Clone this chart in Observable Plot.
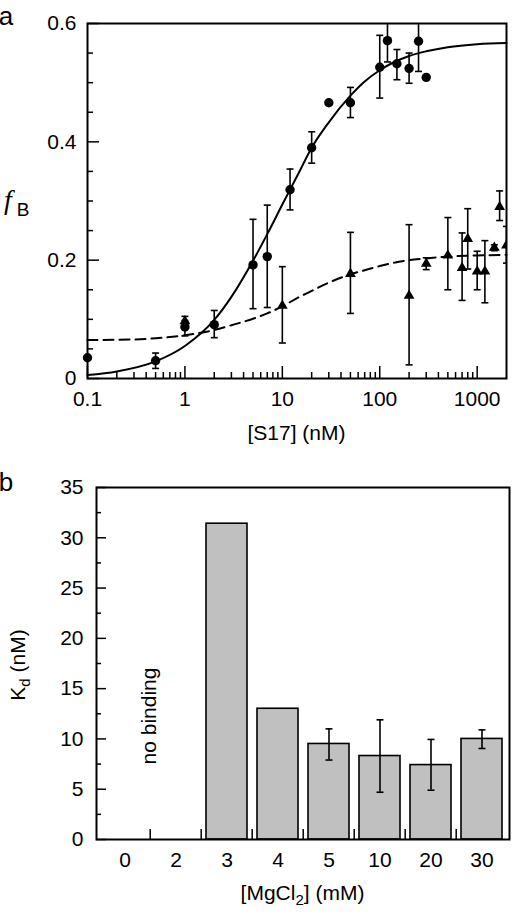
<!DOCTYPE html>
<html><head><meta charset="utf-8">
<script src="https://cdn.jsdelivr.net/npm/d3@7"></script>
<script src="https://cdn.jsdelivr.net/npm/@observablehq/plot@0.6"></script>
<style>
html,body{margin:0;padding:0;background:#fff;}
#wrap{position:relative;width:519px;height:914px;overflow:hidden;}
#wrap svg{display:block;}
</style></head><body><div id="wrap"></div>
<script>
// ---------- Panel a: fraction bound vs [S17] ----------
const circleX  = [0.1, 0.5, 1, 2, 5, 7, 12, 20, 30, 50, 100, 120, 150, 200, 250, 300];
const circleY  = [0.035, 0.030, 0.087, 0.091, 0.192, 0.206, 0.319, 0.390, 0.466, 0.466, 0.526, 0.571, 0.532, 0.524, 0.570, 0.509];
const circleLo = [null, 0.017, 0.072, 0.069, 0.118, 0.120, 0.285, 0.364, null, 0.441, 0.474, 0.535, 0.505, 0.499, 0.519, null];
const circleHi = [null, 0.043, 0.098, 0.115, 0.269, 0.293, 0.354, 0.417, null, 0.492, 0.580, 0.640, 0.556, 0.550, 0.640, null];

const triX  = [1, 10, 50, 200, 300, 500, 700, 800, 1000, 1200, 1500, 1700, 2000];
const triY  = [0.097, 0.123, 0.177, 0.140, 0.194, 0.208, 0.187, 0.236, 0.181, 0.181, 0.221, 0.290, 0.225];
const triLo = [0.088, 0.060, 0.110, 0.023, 0.184, 0.150, 0.132, 0.185, 0.150, 0.128, 0.216, 0.267, 0.195];
const triHi = [0.105, 0.189, 0.247, 0.260, 0.204, 0.272, 0.246, 0.287, 0.215, 0.233, 0.226, 0.317, 0.257];

const solidX = [0.1, 0.2, 0.5, 1, 2, 3, 5, 7, 10, 15, 20, 30, 50, 70, 100, 200, 300, 500, 1000, 2000];
const solidY = [0.006, 0.012, 0.029, 0.055, 0.099, 0.138, 0.199, 0.244, 0.294, 0.350, 0.390, 0.433, 0.478, 0.502, 0.521, 0.545, 0.553, 0.560, 0.565, 0.567];
const dashX  = [0.1, 0.3, 0.5, 1, 2, 3, 5, 7, 10, 15, 20, 30, 50, 70, 100, 200, 300, 500, 1000, 2000];
const dashY  = [0.065, 0.066, 0.068, 0.073, 0.082, 0.090, 0.101, 0.110, 0.122, 0.138, 0.148, 0.162, 0.176, 0.183, 0.190, 0.200, 0.203, 0.206, 0.208, 0.209];

const xMajorTicks = [0.1, 1, 10, 100, 1000];
const xMinorTicks = [0.2,0.3,0.4,0.5,0.6,0.7,0.8,0.9, 2,3,4,5,6,7,8,9, 20,30,40,50,60,70,80,90, 200,300,400,500,600,700,800,900];
const yMajorTicksA = [0, 0.2, 0.4, 0.6];
const yMinorTicksA = [0.05, 0.1, 0.15, 0.25, 0.3, 0.35, 0.45, 0.5, 0.55];

// ---------- Panel b: Kd vs [MgCl2] ----------
const mgLabels = ["0", "2", "3", "4", "5", "10", "20", "30"];
const kdValues = [null, null, 31.4, 13.0, 9.5, 8.3, 7.4, 10.0];
const kdLo     = [null, null, null, null, 7.9, 4.7, 4.9, 9.05];
const kdHi     = [null, null, null, null, 11.0, 11.9, 9.95, 10.9];
const yMajorTicksB = [0, 5, 10, 15, 20, 25, 30, 35];
const yMinorTicksB = [2.5, 7.5, 12.5, 17.5, 22.5, 27.5, 32.5];

const SANS = "'Liberation Sans', Arial, Helvetica, sans-serif";
const FS = 21;
const capSymbol = {draw(ctx, size) { const r = Math.sqrt(size / Math.PI); ctx.moveTo(-r, 0); ctx.lineTo(r, 0); }};

const circles = circleX.map((x, i) => ({x, y: circleY[i], lo: circleLo[i], hi: circleHi[i]}));
const circErr = circles.filter(d => d.lo != null);
const tris = triX.map((x, i) => ({x, y: triY[i], lo: triLo[i], hi: triHi[i]}));
const solid = solidX.map((x, i) => ({x, y: solidY[i]}));
const dashed = dashX.map((x, i) => ({x, y: dashY[i]}));

const plotA = Plot.plot({
  width: 519, height: 445,
  marginLeft: 87, marginRight: 13, marginTop: 23, marginBottom: 67,
  style: {fontFamily: SANS, fontSize: FS + "px", background: "white", color: "black"},
  x: {type: "log", domain: [0.1, 2000]},
  y: {domain: [0, 0.6]},
  marks: [
    Plot.line(dashed, {x: "x", y: "y", stroke: "black", strokeWidth: 2, strokeDasharray: "10,6", curve: "monotone-x"}),
    Plot.line(solid, {x: "x", y: "y", stroke: "black", strokeWidth: 2, curve: "monotone-x"}),
    Plot.ruleX(circErr, {x: "x", y1: "lo", y2: "hi", stroke: "black", strokeWidth: 1.6, clip: true}),
    Plot.dot(circErr, {x: "x", y: "lo", symbol: capSymbol, r: 3.5, stroke: "black", strokeWidth: 1.6, fill: "none", clip: true}),
    Plot.dot(circErr, {x: "x", y: "hi", symbol: capSymbol, r: 3.5, stroke: "black", strokeWidth: 1.6, fill: "none", clip: true}),
    Plot.ruleX(tris, {x: "x", y1: "lo", y2: "hi", stroke: "black", strokeWidth: 1.6, clip: true}),
    Plot.dot(tris, {x: "x", y: "lo", symbol: capSymbol, r: 3.5, stroke: "black", strokeWidth: 1.6, fill: "none", clip: true}),
    Plot.dot(tris, {x: "x", y: "hi", symbol: capSymbol, r: 3.5, stroke: "black", strokeWidth: 1.6, fill: "none", clip: true}),
    Plot.dot(circles, {x: "x", y: "y", r: 4.7, fill: "black", stroke: "none"}),
    Plot.dot(tris, {x: "x", y: "y", symbol: "triangle", r: 4, fill: "black", stroke: "none", clip: true}),
    Plot.axisX(xMajorTicks, {tickSize: -12, tickPadding: 25, strokeWidth: 1.5, tickFormat: d => String(d), label: null}),
    Plot.axisX(xMinorTicks, {tickSize: -6, strokeWidth: 1.5, fill: "none", label: null}),
    Plot.axisY(yMajorTicksA, {tickSize: -12, tickPadding: 23, strokeWidth: 1.5, tickFormat: d => d === 0 ? "0" : d.toFixed(1), label: null}),
    Plot.axisY(yMinorTicksA, {tickSize: -6, strokeWidth: 1.5, fill: "none", label: null}),
    Plot.frame({stroke: "black", strokeWidth: 2})
  ]
});

const mg = mgLabels.map((m, i) => ({m, kd: kdValues[i], lo: kdLo[i], hi: kdHi[i]}));
const bars = mg.filter(d => d.kd != null);
const barErr = mg.filter(d => d.lo != null);

const plotB = Plot.plot({
  width: 519, height: 469,
  marginLeft: 96, marginRight: 10, marginTop: 42, marginBottom: 75,
  style: {fontFamily: SANS, fontSize: FS + "px", background: "white", color: "black"},
  x: {type: "band", domain: mgLabels, paddingInner: 0.2, paddingOuter: 0.1},
  y: {domain: [0, 35]},
  marks: [
    Plot.barY(bars, {x: "m", y: "kd", fill: "#c0c0c0", stroke: "black", strokeWidth: 1.6}),
    Plot.ruleX(barErr, {x: "m", y1: "lo", y2: "hi", stroke: "black", strokeWidth: 1.6}),
    Plot.dot(barErr, {x: "m", y: "lo", symbol: capSymbol, r: 3.5, stroke: "black", strokeWidth: 1.6, fill: "none"}),
    Plot.dot(barErr, {x: "m", y: "hi", symbol: capSymbol, r: 3.5, stroke: "black", strokeWidth: 1.6, fill: "none"}),
    Plot.axisX(mgLabels, {tickSize: 0, tickPadding: 13, label: null}),
    Plot.axisX(mgLabels.slice(1), {tickSize: -10, dx: -25.8, strokeWidth: 1.5, fill: "none", label: null}),
    Plot.axisY(yMajorTicksB, {tickSize: -10, tickPadding: 23, strokeWidth: 1.5, label: null}),
    Plot.axisY(yMinorTicksB, {tickSize: -5, strokeWidth: 1.5, fill: "none", label: null}),
    Plot.frame({stroke: "black", strokeWidth: 2})
  ]
});

const wrap = document.getElementById("wrap");
wrap.appendChild(plotA);
wrap.appendChild(plotB);

// ---------- annotations ----------
const sa = d3.select(plotA);
sa.append("text").attr("x", 6).attr("y", 25).attr("font-family", SANS).attr("font-size", 26).attr("fill", "black").text("a");
const fb = sa.append("text").attr("fill", "black");
fb.append("tspan").attr("x", 8).attr("y", 209).attr("font-family", "'Liberation Serif', 'Times New Roman', serif").attr("font-style", "italic").attr("font-size", 28).text("f");
fb.append("tspan").attr("x", 23).attr("y", 216).attr("font-family", SANS).attr("font-size", 19).text("B");
sa.append("text").attr("x", 296.5).attr("y", 440).attr("text-anchor", "middle").attr("font-family", SANS).attr("font-size", FS).attr("fill", "black").text("[S17] (nM)");

const sb = d3.select(plotB);
// plotB starts at y = 445 on the page
sb.append("text").attr("x", 6).attr("y", 46).attr("font-family", SANS).attr("font-size", 26).attr("fill", "black").text("b");
const kd = sb.append("text").attr("transform", "translate(25,220) rotate(-90)").attr("text-anchor", "middle").attr("font-family", SANS).attr("font-size", FS).attr("fill", "black");
kd.append("tspan").text("K");
kd.append("tspan").attr("font-size", 15).attr("dy", 5).text("d");
kd.append("tspan").attr("dy", -5).text(" (nM)");
sb.append("text").attr("transform", "translate(156,271) rotate(-90)").attr("text-anchor", "middle").attr("font-family", SANS).attr("font-size", FS).attr("fill", "black").text("no binding");
const mt = sb.append("text").attr("x", 302.5).attr("y", 455).attr("text-anchor", "middle").attr("font-family", SANS).attr("font-size", FS).attr("fill", "black");
mt.append("tspan").text("[MgCl");
mt.append("tspan").attr("font-size", 15).attr("dy", 5).text("2");
mt.append("tspan").attr("dy", -5).text("] (mM)");
</script>
</body></html>
